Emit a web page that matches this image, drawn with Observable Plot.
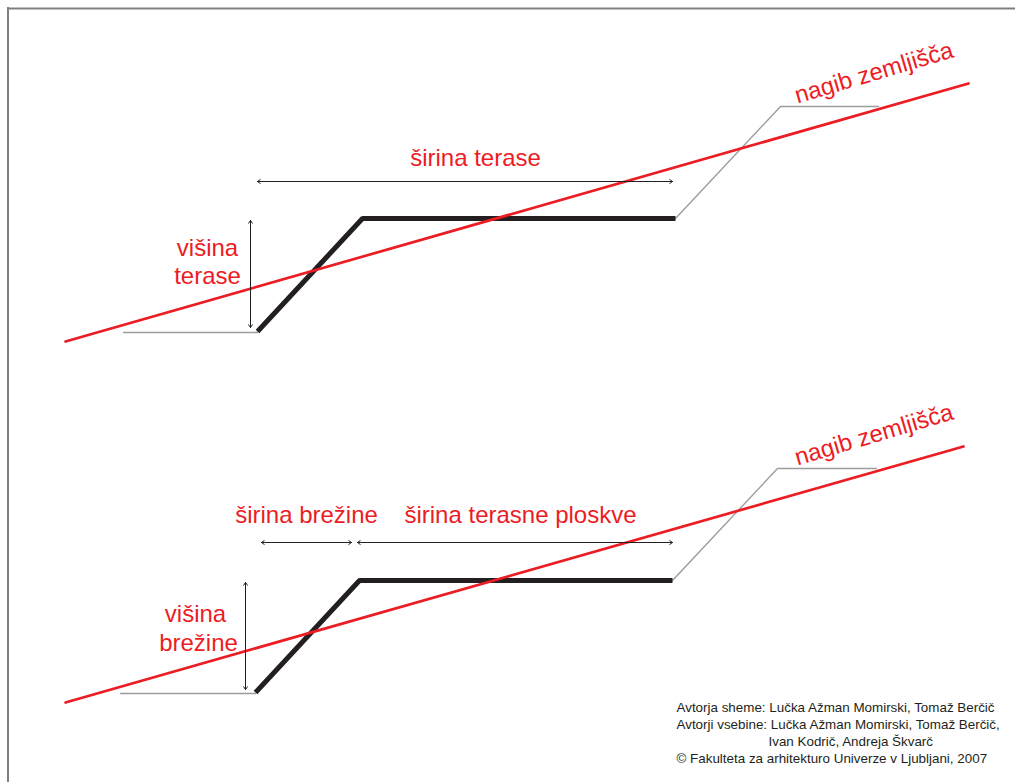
<!DOCTYPE html>
<html>
<head>
<meta charset="utf-8">
<script src="https://cdn.jsdelivr.net/npm/d3@7"></script>
<script src="https://cdn.jsdelivr.net/npm/@observablehq/plot@0.6"></script>
<style>
  html, body { margin: 0; padding: 0; background: #fff; overflow: hidden; }
  #chart svg { display: block; }
</style>
</head>
<body>
<div id="chart"></div>
<script>
// ---- diagram geometry (diagram units = page pixels, y downward) ----
const frameLeft = [7.5];
const frameTop = [8];

// top scheme
const slopeTop = [{x: 65, y: 341}, {x: 968, y: 83}];
const groundLeftTop = [{x: 123, y: 332}, {x: 257, y: 332}];
const terraceTop = [{x: 257, y: 331}, {x: 362, y: 218}, {x: 675, y: 218}];
const groundRightTop = [{x: 675, y: 218}, {x: 780, y: 106}, {x: 878, y: 106}];
const dimsTop = [
  {x1: 257, y1: 181, x2: 672, y2: 181},
  {x1: 250, y1: 220, x2: 250, y2: 327}
];
const labelsTop = [
  {x: 475, y: 165, text: "širina terase"},
  {x: 207, y: 255, text: "višina"},
  {x: 207, y: 283, text: "terase"}
];
const slopeLabelTop = [{x: 797, y: 103, text: "nagib zemljišča"}];

// bottom scheme
const slopeBottom = [{x: 65, y: 702}, {x: 963, y: 446}];
const groundLeftBottom = [{x: 120, y: 693}, {x: 255, y: 693}];
const terraceBottom = [{x: 255, y: 692}, {x: 359, y: 580}, {x: 672, y: 580}];
const groundRightBottom = [{x: 672, y: 580}, {x: 777, y: 468}, {x: 876, y: 468}];
const dimsBottom = [
  {x1: 261, y1: 542, x2: 351, y2: 542},
  {x1: 357, y1: 542, x2: 672, y2: 542},
  {x1: 245, y1: 582, x2: 245, y2: 689}
];
const labelsBottom = [
  {x: 306, y: 522, text: "širina brežine"},
  {x: 520, y: 522, text: "širina terasne ploskve"},
  {x: 195, y: 621, text: "višina"},
  {x: 198, y: 650, text: "brežine"}
];
const slopeLabelBottom = [{x: 797, y: 465, text: "nagib zemljišča"}];

// credits
const credits = [
  {x: 676, y: 711, text: "Avtorja sheme: Lučka Ažman Momirski, Tomaž Berčič"},
  {x: 676, y: 728, text: "Avtorji vsebine: Lučka Ažman Momirski, Tomaž Berčič,"},
  {x: 768, y: 745, text: "Ivan Kodrič, Andreja Škvarč"},
  {x: 676, y: 762, text: "© Fakulteta za arhitekturo Univerze v Ljubljani, 2007"}
];

const RED = "#ec1c24";
const BLACK = "#231f20";
const GREY = "#9c9c9c";
const FONT = "Liberation Sans, Arial, Helvetica, sans-serif";

// double-headed dimension arrows: two arrows from the midpoint outwards
const mid = (a, b) => (a + b) / 2;
const dimArrows = (dims) => [
  Plot.arrow(dims, {x1: d => mid(d.x1, d.x2), y1: d => mid(d.y1, d.y2), x2: "x1", y2: "y1",
    stroke: BLACK, strokeWidth: 1, headLength: 5, headAngle: 70}),
  Plot.arrow(dims, {x1: d => mid(d.x1, d.x2), y1: d => mid(d.y1, d.y2), x2: "x2", y2: "y2",
    stroke: BLACK, strokeWidth: 1, headLength: 5, headAngle: 70})
];

const chart = Plot.plot({
  width: 1015,
  height: 782,
  margin: 0,
  x: {domain: [0, 1015], axis: null},
  y: {domain: [0, 782], reverse: true, axis: null},
  style: {fontFamily: FONT, background: "#fff"},
  marks: [
    Plot.ruleX(frameLeft, {x: d => d, y1: frameTop[0] - 1, y2: 782, stroke: "#808080", strokeWidth: 2}),
    Plot.ruleY(frameTop, {y: d => d, x1: frameLeft[0], x2: 1015, stroke: "#808080", strokeWidth: 2}),

    // top
    Plot.line(groundLeftTop, {x: "x", y: "y", stroke: GREY, strokeWidth: 1.4}),
    Plot.line(groundRightTop, {x: "x", y: "y", stroke: GREY, strokeWidth: 1.4}),
    Plot.line(terraceTop, {x: "x", y: "y", stroke: BLACK, strokeWidth: 5, strokeLinejoin: "miter", strokeLinecap: "butt"}),
    Plot.line(slopeTop, {x: "x", y: "y", stroke: RED, strokeWidth: 2.7}),
    ...dimArrows(dimsTop),
    Plot.text(labelsTop, {x: "x", y: "y", text: "text", fill: RED, fontSize: 24, lineAnchor: "bottom"}),
    Plot.text(slopeLabelTop, {x: "x", y: "y", text: "text", fill: RED, fontSize: 24, lineAnchor: "bottom", textAnchor: "start", rotate: -16.5}),

    // bottom
    Plot.line(groundLeftBottom, {x: "x", y: "y", stroke: GREY, strokeWidth: 1.4}),
    Plot.line(groundRightBottom, {x: "x", y: "y", stroke: GREY, strokeWidth: 1.4}),
    Plot.line(terraceBottom, {x: "x", y: "y", stroke: BLACK, strokeWidth: 5, strokeLinejoin: "miter", strokeLinecap: "butt"}),
    Plot.line(slopeBottom, {x: "x", y: "y", stroke: RED, strokeWidth: 2.7}),
    ...dimArrows(dimsBottom),
    Plot.text(labelsBottom, {x: "x", y: "y", text: "text", fill: RED, fontSize: 24, lineAnchor: "bottom"}),
    Plot.text(slopeLabelBottom, {x: "x", y: "y", text: "text", fill: RED, fontSize: 24, lineAnchor: "bottom", textAnchor: "start", rotate: -16.5}),

    // credits
    Plot.text(credits, {x: "x", y: "y", text: "text", fill: BLACK, fontSize: 13.4, lineAnchor: "bottom", textAnchor: "start"})
  ]
});
document.getElementById("chart").appendChild(chart);
</script>
</body>
</html>
